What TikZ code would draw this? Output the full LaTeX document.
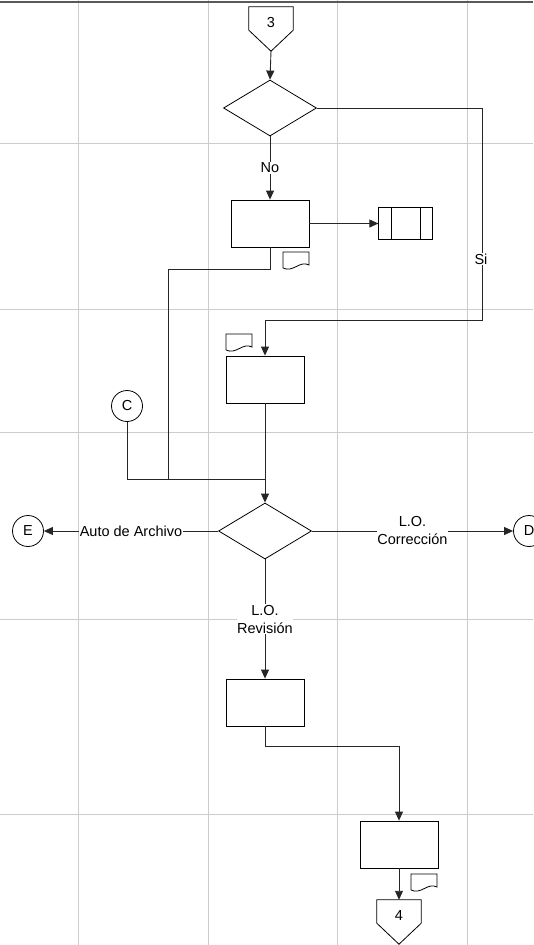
\documentclass[tikz,border=0pt]{standalone}
\usepackage{fontspec}
\setmainfont{Liberation Sans}
\usetikzlibrary{arrows.meta,positioning,calc,shapes.geometric}
\tikzset{
  procbox/.style={draw,line width=0.8pt,minimum width=78pt,minimum height=47pt,inner sep=0pt},
  decision/.style={draw,diamond,line width=0.8pt,minimum width=93pt,minimum height=56pt,inner sep=0pt},
  storebox/.style={draw,line width=0.8pt,minimum width=54pt,minimum height=32pt,inner sep=0pt},
  connect/.style={draw,circle,line width=0.8pt,minimum size=31pt,inner sep=0pt},
  pagenum/.style={minimum width=44pt,minimum height=23pt,inner sep=0pt},
  flowline/.style={draw=black!85,line width=0.9pt},
  flowarrow/.style={flowline,-{Triangle[length=9pt,width=8pt]}},
  lbl/.style={fill=white,inner sep=0.5pt,align=center},
  gridline/.style={draw=black!20,line width=1pt},
  docsym/.pic={
    \draw[line width=0.8pt] (0,0) -- (26,0) -- (26,-13)
      .. controls (17,-8) and (10,-21) .. (0,-16) -- cycle;
  }
}

\begin{document}
\begin{tikzpicture}[x=1pt,y=1pt,font=\fontsize{14.5}{18}\selectfont]
  \useasboundingbox (0,0) rectangle (533,-945);
  % lanes
  \foreach \gx in {78,208,337,467} \draw[gridline] (\gx,0) -- (\gx,-945);
  \foreach \gy in {143,309,432,619,814} \draw[gridline] (0,-\gy) -- (533,-\gy);
  \draw[draw=black!65,line width=1.5pt] (0,-2) -- (533,-2);

  % upper part
  \node[pagenum] (p3) at (271,-18.5) {\smash{\raisebox{-9pt}{3}}};
  \draw[line width=0.8pt] (p3.south west) -- (p3.north west) -- (p3.north east)
    -- (p3.south east) -- ($(p3.south)+(0,-21)$) coordinate (p3tip) -- cycle;
  \node[decision] (d1) at (270,-108) {};
  \node[procbox] (b1) at (270,-223.5) {};
  \node[storebox,right=69pt of b1] (st) {};
  \draw[line width=0.8pt] ($(st.north west)+(13,0)$) -- ($(st.south west)+(13,0)$);
  \draw[line width=0.8pt] ($(st.north east)+(-13,0)$) -- ($(st.south east)+(-13,0)$);
  \pic at (283,-252) {docsym};
  \node[procbox] (b2) at (265,-379.5) {};
  \pic at (226,-334) {docsym};
  \node[connect] (cC) at (127,-406) {C};

  \coordinate (sicorner) at (482,-320);
  \coordinate (b1turn) at (168,-269);
  \coordinate (join) at (265,-479);

  \draw[flowarrow] (p3tip) -- (d1.north);
  \draw[flowarrow] (d1.south) -- node[lbl] (no) {No} (b1.north);
  \draw[flowarrow] (b1.east) -- (st.west);
  \draw[flowarrow] (d1.east) -| (sicorner) -| (b2.north);
  \node[lbl] (si) at (481,-259) {Si};
  \draw[flowline] (b1.south) |- (b1turn) |- (join);
  \draw[flowline] (cC.south) |- (join);

  % second decision
  \node[decision] (d2) at (265,-531) {};
  \node[connect] (cE) at (28,-531) {E};
  \node[connect] (cD) at (529,-531) {D};
  \draw[flowarrow] (b2.south) -- (d2.north);
  \draw[flowarrow] (d2.west) -- node[lbl] (archivo) {Auto de Archivo} (cE.east);
  \draw[flowarrow] (d2.east) -- node[lbl] (correccion) {L.O.\\Corrección} (cD.west);

  % lower part
  \node[procbox] (b3) at (265,-702.5) {};
  \draw[flowarrow] (d2.south) -- node[lbl] (revision) {L.O.\\Revisión} (b3.north);
  \node[procbox] (b4) at (399,-844.5) {};
  \coordinate (b3turn) at (399,-746);
  \draw[flowarrow] (b3.south) |- (b3turn) -- (b4.north);
  \pic at (411,-874) {docsym};
  \node[pagenum] (p4) at (399,-911.5) {\smash{\raisebox{-9pt}{4}}};
  \draw[line width=0.8pt] (p4.south west) -- (p4.north west) -- (p4.north east)
    -- (p4.south east) -- ($(p4.south)+(0,-21)$) coordinate (p4tip) -- cycle;
  \draw[flowarrow] (b4.south) -- (p4.north);
\end{tikzpicture}
\end{document}
